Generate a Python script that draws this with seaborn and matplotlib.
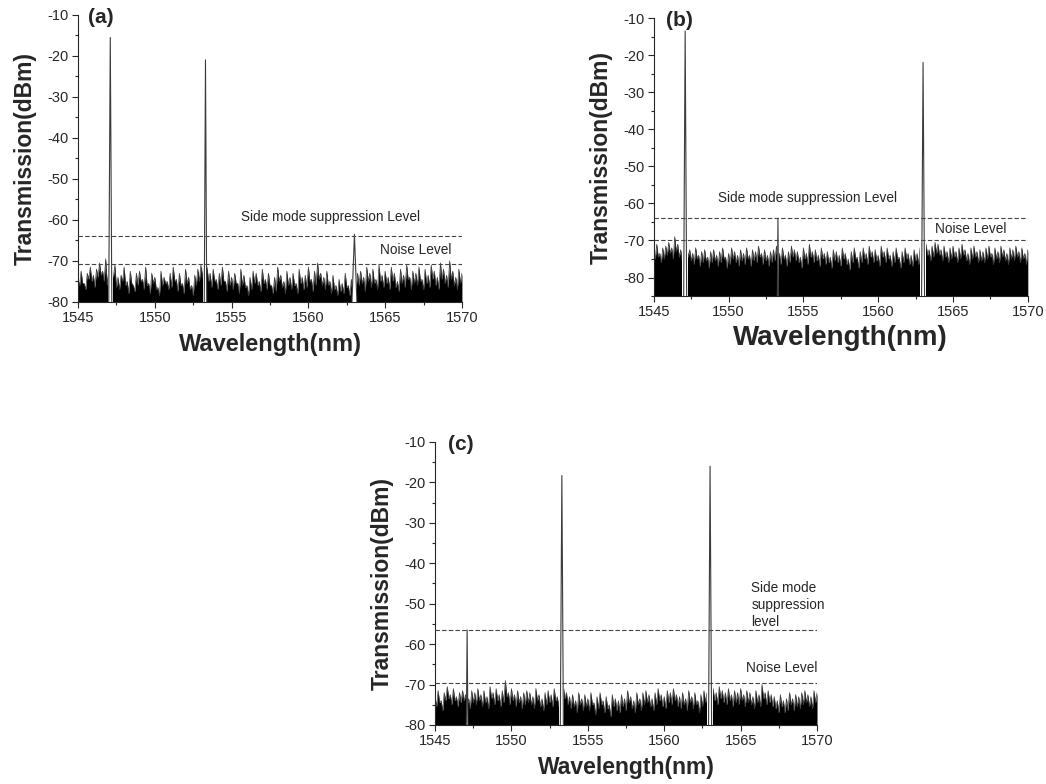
import numpy as np
import pandas as pd
import matplotlib
matplotlib.use("Agg")
import matplotlib.pyplot as plt
from matplotlib.ticker import MultipleLocator
import seaborn as sns

# ---------------- data ----------------
wl_start, wl_step = 1545.0, 0.2   # noise sample grid; valleys sit half a step later

noise_a = [
    -74.5, -72.5, -75.5, -73, -71.5, -73.5, -72, -70.5, -72.5, -69.5,
    -72, -73, -71, -74, -73.5, -71.5, -75, -72.5, -76, -73,
    -72.5, -74.5, -71.5, -75.5, -73, -74, -76.5, -72.5, -74, -75,
    -73, -71.5, -74.5, -73, -75.5, -72, -74, -76, -73.5, -72,
    -71, -70, -71.5, -73, -72, -74.5, -73, -71.5, -75, -72.5,
    -74, -73, -75.5, -72, -73.5, -76, -74, -72.5, -73, -75,
    -72, -74.5, -73, -76, -74, -71.5, -73.5, -75, -72.5, -74,
    -73, -75.5, -72, -74, -73.5, -71.5, -74.5, -72.5, -70.5, -73,
    -74, -72.5, -75, -73.5, -76, -74.5, -75.5, -73, -76, -74.5,
    -74, -73, -72.5, -74, -71.5, -73, -72, -74.5, -71, -73.5,
    -72.5, -74, -71.5, -73, -75, -72, -73.5, -71, -74, -72.5,
    -73, -71.5, -74.5, -72, -73.5, -71, -72.5, -74, -70.5, -72,
    -73.5, -70, -72.5, -74, -72, -73,
]
valley_a = [
    -76, -75.5, -77, -74.5, -75, -76.5, -74, -73.5, -75, -76,
    -75.5, -74, -76.5, -77, -75, -76, -78, -75.5, -77.5, -76,
    -75, -77, -76, -78, -75.5, -77, -78.5, -76, -75.5, -77,
    -76.5, -75, -77.5, -76, -78, -75.5, -77, -78.5, -76, -75,
    -74, -73.5, -75, -76.5, -75, -77, -76, -75, -77.5, -76,
    -77, -75.5, -78, -76, -76.5, -78.5, -77, -75.5, -76, -77.5,
    -75.5, -77, -76, -78, -77.5, -75, -76.5, -78, -76, -77,
    -76, -78, -75.5, -77, -76.5, -75, -77.5, -76, -74.5, -76,
    -77, -76, -78, -77, -78.5, -77.5, -78, -76.5, -78.5, -77.5,
    -77, -76, -75.5, -77.5, -75, -76.5, -75.5, -77, -75, -76.5,
    -75.5, -77, -75, -76.5, -77.5, -75.5, -76.5, -74.5, -77, -75.5,
    -76, -75, -77, -75.5, -76.5, -74.5, -76, -77, -74.5, -75.5,
    -76.5, -74.5, -76, -77, -75.5,
]
noise_b = [
    -72.5, -71, -73.5, -72, -71.5, -70.5, -72, -69, -71, -72.5,
    -73, -71, -72.5, -73.5, -72, -74, -73, -72.5, -74.5, -73,
    -72.5, -74, -73, -72, -74.5, -73.5, -72, -73, -74, -72.5,
    -73.5, -72, -74, -72.5, -73, -71.5, -73.5, -72.5, -74, -73,
    -72.5, -71.5, -73.5, -72, -74, -73, -71.5, -72.5, -73, -74.5,
    -72, -73.5, -71, -73, -72.5, -74, -72, -73.5, -73, -74.5,
    -72.5, -73, -74, -72, -73.5, -75, -73, -72, -74.5, -73,
    -72, -73.5, -71.5, -73, -72.5, -74, -71.5, -73, -72, -74,
    -73, -72, -74.5, -73, -72, -73.5, -74, -72.5, -73.5, -72,
    -72, -71, -72.5, -71.5, -70.5, -71, -72.5, -71.5, -73, -72,
    -71.5, -73, -72, -71, -72.5, -73.5, -72, -71.5, -73, -72.5,
    -73, -72, -71.5, -73.5, -72, -73, -71.5, -72.5, -73.5, -72,
    -72.5, -71.5, -73, -72, -73.5, -72.5,
]
valley_b = [
    -75, -74.5, -76, -75, -74, -73.5, -75, -73, -74.5, -75.5,
    -76, -74.5, -75.5, -76.5, -75, -77, -76, -75.5, -77.5, -76,
    -75.5, -77, -76, -75, -77.5, -76.5, -75, -76, -77, -75.5,
    -76.5, -75, -77, -75.5, -76, -74.5, -76.5, -75.5, -77, -76,
    -75.5, -74.5, -76.5, -75, -77, -76, -74.5, -75.5, -76, -77.5,
    -75, -76.5, -74.5, -76, -75.5, -77, -75, -76.5, -76, -77.5,
    -75.5, -76, -77, -75, -76.5, -78, -76, -75, -77.5, -76,
    -75, -76.5, -74.5, -76, -75.5, -77, -74.5, -76, -75, -77,
    -76, -75, -77.5, -76, -75, -76.5, -77, -75.5, -76.5, -75,
    -74.5, -74, -75.5, -74.5, -73.5, -74, -75.5, -74.5, -76, -75,
    -74.5, -76, -75, -74, -75.5, -76.5, -75, -74.5, -76, -75.5,
    -76, -75, -74.5, -76.5, -75, -76, -74.5, -75.5, -76.5, -75,
    -75.5, -74.5, -76, -75, -76.5,
]
noise_c = [
    -73, -71.5, -74, -72, -70.5, -72.5, -71, -73, -72, -71.5,
    -72.5, -73.5, -71.5, -72, -71, -72.5, -71.5, -73, -70.5, -72,
    -71, -72.5, -71.5, -69, -72, -71, -72.5, -71.5, -73, -72,
    -71.5, -72, -73, -71, -72.5, -73.5, -72, -71.5, -72.5, -71,
    -73, -71.5, -70.5, -72, -73, -72.5, -74, -72, -73.5, -72.5,
    -73.5, -72, -74.5, -73, -72, -74, -73, -75, -72.5, -73.5,
    -74, -72.5, -73.5, -71.5, -73, -74, -72, -73.5, -72, -71.5,
    -72.5, -73.5, -72, -71, -72.5, -73, -71.5, -72, -71, -72.5,
    -73, -72, -73.5, -71.5, -73, -72, -74, -72.5, -71.5, -72,
    -71.5, -71, -72, -70.5, -71.5, -72, -71, -72.5, -71.5, -72,
    -71, -72.5, -71.5, -72, -73, -71.5, -72.5, -70, -72, -71.5,
    -72.5, -73, -74, -72.5, -74, -73.5, -72, -73.5, -72.5, -73,
    -72, -71.5, -72.5, -73, -71.5, -72,
]
valley_c = [
    -75.5, -74.5, -76.5, -74, -73.5, -75, -74, -75.5, -74.5, -74,
    -75, -76, -74.5, -75, -74, -75.5, -74.5, -76, -73.5, -75,
    -74, -75.5, -74.5, -73, -75, -74, -75.5, -74.5, -76, -75,
    -74.5, -75, -76, -74, -75.5, -76.5, -75, -74.5, -75.5, -74,
    -75.5, -74.5, -73.5, -75, -76, -75.5, -77, -75, -76.5, -75.5,
    -76.5, -75, -77.5, -76, -75, -77, -76, -78, -75.5, -76.5,
    -77, -75.5, -76.5, -74.5, -76, -77, -75, -76.5, -75, -74.5,
    -75.5, -76.5, -75, -74, -75.5, -76, -74.5, -75, -74, -75.5,
    -76, -75, -76.5, -74.5, -76, -75, -77, -75.5, -74.5, -75,
    -74.5, -74, -75, -73.5, -74.5, -75, -74, -75.5, -74.5, -75,
    -74, -75.5, -74.5, -75, -76, -74.5, -75.5, -73.5, -75, -74.5,
    -75.5, -76, -77, -75.5, -77, -76.5, -75, -76.5, -75.5, -76,
    -75, -74.5, -75.5, -76, -74.5,
]

peak_wl_a = [1547.1, 1553.3, 1563.0]
peak_top_a = [-15.5, -21.0, -63.5]
peak_wl_b = [1547.1, 1553.3, 1563.0]
peak_top_b = [-13.5, -64.0, -22.0]
peak_wl_c = [1547.1, 1553.3, 1563.0]
peak_top_c = [-56.5, -18.3, -16.0]

smsl = {"a": -64.0, "b": -64.0, "c": -56.5}
noise_level = {"a": -70.7, "b": -70.0, "c": -69.7}
ylims = {"a": (-80, -10), "b": (-85, -10), "c": (-80, -10)}
yticks = [-80, -70, -60, -50, -40, -30, -20, -10]
xticks = [1545, 1550, 1555, 1560, 1565, 1570]

# ---------------- style ----------------
sns.set_style("ticks")
plt.rcParams["font.family"] = ["Liberation Sans", "DejaVu Sans"]
plt.rcParams["axes.unicode_minus"] = False

fig = plt.figure(figsize=(10.46, 7.84), dpi=100)

axes_pos = {
    "a": [0.0746, 0.615, 0.367, 0.366],
    "b": [0.625, 0.6224, 0.3576, 0.3546],
    "c": [0.4159, 0.0753, 0.3652, 0.361],
}
noise = {"a": (noise_a, valley_a), "b": (noise_b, valley_b), "c": (noise_c, valley_c)}
peaks = {"a": (peak_wl_a, peak_top_a), "b": (peak_wl_b, peak_top_b),
         "c": (peak_wl_c, peak_top_c)}
gap_hw = {"a": [0.16, 0.13, 0.17], "b": [0.2, 0.05, 0.2], "c": [0.06, 0.16, 0.2]}
peak_hw = {"a": [0.1, 0.08, 0.16], "b": [0.1, 0.04, 0.1], "c": [0.05, 0.1, 0.1]}
xlab_size = {"a": 17, "b": 20, "c": 16.5}
xlab_pad = {"a": 6, "b": 4, "c": 6}
lab_x = {"a": 1545.65, "b": 1545.85, "c": 1545.85}

for key in ["a", "b", "c"]:
    ax = fig.add_axes(axes_pos[key])
    y0, y1 = ylims[key]
    hi, lo = noise[key]
    hi = np.asarray(hi, dtype=float)
    lo = np.asarray(lo, dtype=float)
    wl_hi = wl_start + wl_step * np.arange(len(hi))
    wl_lo = wl_start + wl_step * (np.arange(len(lo)) + 0.5)
    df = pd.DataFrame({"wl": np.concatenate([wl_hi, wl_lo]),
                       "p": np.concatenate([hi, lo])}).sort_values("wl")
    ax.fill_between(df["wl"], y0, df["p"], color="black", lw=0, zorder=1)
    sns.lineplot(data=df, x="wl", y="p", ax=ax, color="#3a3a3a", lw=0.5,
                 estimator=None, zorder=2)
    pw, pt = peaks[key]
    for i, (c, t) in enumerate(zip(pw, pt)):
        g = gap_hw[key][i]
        ax.fill_between([c - g, c + g], y0, -68.5, color="white", lw=0, zorder=3)
        hw = peak_hw[key][i]
        px = [c - hw, c, c + hw]
        py = [y0, t, y0]
        sns.lineplot(x=px, y=py, ax=ax, color="#3c3c3c", lw=0.8,
                     estimator=None, sort=False, zorder=4)
    ax.axhline(smsl[key], color="#444444", lw=0.8, ls=(0, (4, 2)), zorder=5)
    ax.axhline(noise_level[key], color="#444444", lw=0.8, ls=(0, (4, 2)), zorder=5)

    ax.set_xlim(1545, 1570)
    ax.set_ylim(y0, y1)
    ax.set_xticks(xticks)
    ax.set_yticks(yticks)
    ax.xaxis.set_minor_locator(MultipleLocator(2.5))
    ax.yaxis.set_minor_locator(MultipleLocator(5))
    ax.tick_params(axis="both", which="major", direction="out", length=4.5,
                   width=0.8, labelsize=10.5, pad=2)
    ax.tick_params(axis="both", which="minor", direction="out", length=2.5,
                   width=0.8)
    for s in ["top", "right"]:
        ax.spines[s].set_visible(False)
    for s in ["left", "bottom"]:
        ax.spines[s].set_linewidth(0.8)
    ax.set_xlabel("Wavelength(nm)", fontsize=xlab_size[key], fontweight="bold",
                  labelpad=xlab_pad[key])
    ax.set_ylabel("Transmission(dBm)", fontsize=16.5, fontweight="bold", labelpad=8)
    ax.text(lab_x[key], -10.6, f"({key})", fontsize=15, fontweight="bold",
            ha="left", va="center")

fa, fb, fc = fig.axes
fs = 9.8
fa.text(1555.6, -59.3, "Side mode suppression Level", fontsize=fs, ha="left", va="center")
fa.text(1564.65, -67.3, "Noise Level", fontsize=fs, ha="left", va="center")
fb.text(1549.3, -58.6, "Side mode suppression Level", fontsize=fs, ha="left", va="center")
fb.text(1563.8, -66.9, "Noise Level", fontsize=fs, ha="left", va="center")
fc.text(1565.7, -50.3, "Side mode\nsuppression\nlevel", fontsize=fs, ha="left",
        va="center", linespacing=1.3)
fc.text(1565.35, -65.9, "Noise Level", fontsize=fs, ha="left", va="center")

fig.savefig("out.png", dpi=100)
